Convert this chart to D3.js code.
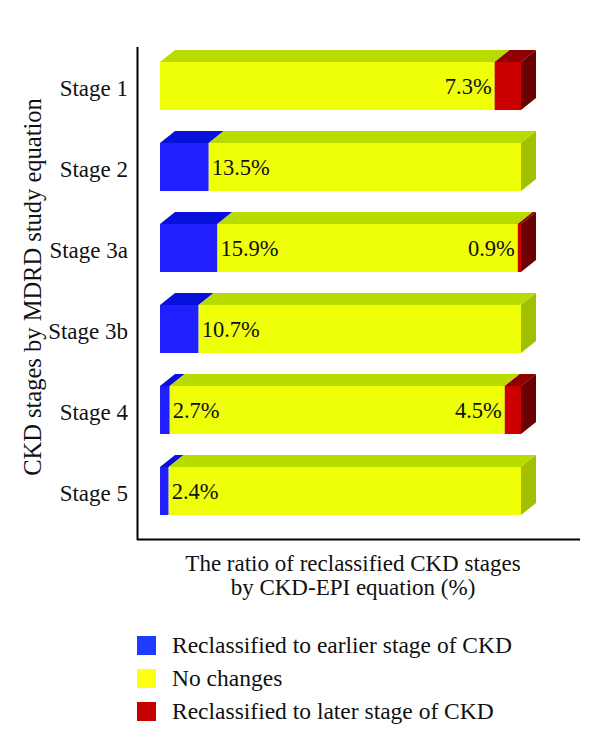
<!DOCTYPE html>
<html>
<head>
<meta charset="utf-8">
<script src="https://cdn.jsdelivr.net/npm/d3@7"></script>
<style>
  html, body { margin: 0; padding: 0; background: #fff; }
  svg { display: block; font-family: "Liberation Serif", "DejaVu Serif", serif; }
</style>
</head>
<body>
<div id="chart"></div>
<script>
const stages = ["Stage 1", "Stage 2", "Stage 3a", "Stage 3b", "Stage 4", "Stage 5"];
const earlier = [0, 13.5, 15.9, 10.7, 2.7, 2.4];
const noChange = [92.7, 86.5, 83.2, 89.3, 92.8, 97.6];
const later = [7.3, 0, 0.9, 0, 4.5, 0];
const seriesNames = ["Reclassified to earlier stage of CKD", "No changes", "Reclassified to later stage of CKD"];
const xTitle = ["The ratio of reclassified CKD stages", "by CKD-EPI equation (%)"];
const yTitle = "CKD stages by MDRD study equation";

const W = 600, H = 746;
const svg = d3.select("#chart").append("svg").attr("width", W).attr("height", H);

const x = d3.scaleLinear().domain([0, 100]).range([160, 521]);
const y = d3.scaleBand().domain(stages).range([62, 515]).paddingInner(0.407).paddingOuter(0);
const DX = 15, DY = 12;

const colors = [
  { front: "#1f1fff", top: "#0a10dc", side: "#0000a0" },
  { front: "#eeff08", top: "#b9dc00", side: "#a2c000" },
  { front: "#cc0000", top: "#8e0000", side: "#6a0000" }
];
const legendColors = ["#1e3cff", "#ffff14", "#c40000"];

// axes lines
svg.append("line").attr("x1", 137.5).attr("x2", 137.5).attr("y1", 47).attr("y2", 540)
  .attr("stroke", "#000").attr("stroke-width", 2);
svg.append("line").attr("x1", 137).attr("x2", 580).attr("y1", 539.5).attr("y2", 539.5)
  .attr("stroke", "#000").attr("stroke-width", 2);

const g = svg.append("g");
stages.forEach((s, i) => {
  const vals = [earlier[i], noChange[i], later[i]];
  const y0 = y(s), h = y.bandwidth();
  let acc = 0;
  const segs = [];
  vals.forEach((v, k) => {
    if (v > 0) segs.push({ k, a: acc, b: acc + v });
    acc += v;
  });
  segs.forEach((sg, j) => {
    const x0 = x(sg.a), x1 = x(sg.b), c = colors[sg.k];
    g.append("rect").attr("x", x0).attr("y", y0).attr("width", x1 - x0).attr("height", h)
      .attr("fill", c.front);
    g.append("path").attr("d", `M${x0},${y0}L${x0 + DX},${y0 - DY}L${x1 + DX},${y0 - DY}L${x1},${y0}Z`)
      .attr("fill", c.top);
    if (j === segs.length - 1) {
      g.append("path").attr("d", `M${x1},${y0}L${x1 + DX},${y0 - DY}L${x1 + DX},${y0 + h - DY}L${x1},${y0 + h}Z`)
        .attr("fill", c.side);
    }
  });
  const cy = y0 + h / 2;
  if (earlier[i] > 0) {
    g.append("text").attr("x", x(earlier[i]) + 3).attr("y", cy + 8)
      .attr("font-size", 22.5).attr("fill", "#111").text(earlier[i].toFixed(1) + "%");
  }
  if (later[i] > 0) {
    g.append("text").attr("x", x(earlier[i] + noChange[i]) - 3).attr("y", cy + 8)
      .attr("text-anchor", "end").attr("font-size", 22.5).attr("fill", "#111").text(later[i].toFixed(1) + "%");
  }
  svg.append("text").attr("x", 128).attr("y", cy + 10).attr("text-anchor", "end")
    .attr("font-size", 23).attr("fill", "#111").text(s);
});

// y title
svg.append("text").attr("transform", "translate(41,287) rotate(-90)").attr("text-anchor", "middle")
  .attr("font-size", 24.5).attr("fill", "#111").text(yTitle);

// x title
xTitle.forEach((t, i) => {
  svg.append("text").attr("x", 353).attr("y", 571 + i * 24).attr("text-anchor", "middle")
    .attr("font-size", 23).attr("fill", "#111").text(t);
});

// legend
seriesNames.forEach((n, i) => {
  const ly = 636 + i * 33;
  svg.append("rect").attr("x", 137).attr("y", ly).attr("width", 19).attr("height", 19)
    .attr("fill", legendColors[i]);
  svg.append("text").attr("x", 172).attr("y", ly + 17).attr("font-size", 23.5).attr("fill", "#111").text(n);
});
</script>
</body>
</html>
